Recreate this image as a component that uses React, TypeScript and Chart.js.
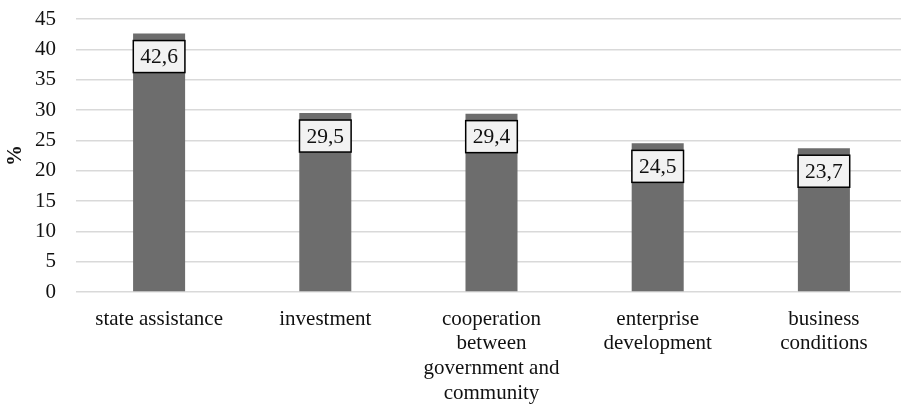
import React, { useEffect, useRef } from "react";
import { Chart, registerables } from "chart.js";

Chart.register(...registerables);

const categories: (string | string[])[] = [
  "state assistance",
  "investment",
  ["cooperation", "between", "government and", "community"],
  ["enterprise", "development"],
  ["business", "conditions"],
];
const values: number[] = [42.6, 29.5, 29.4, 24.5, 23.7];
const valueLabels: string[] = ["42,6", "29,5", "29,4", "24,5", "23,7"];
const yTicks: number[] = [0, 5, 10, 15, 20, 25, 30, 35, 40, 45];
const yTitle = "%";

const FONT = '"Liberation Serif", "Times New Roman", serif';

const boxLabels = {
  id: "boxLabels",
  afterDatasetsDraw(chart: any) {
    const ctx = chart.ctx;
    const meta = chart.getDatasetMeta(0);
    ctx.save();
    ctx.font = `21.5px ${FONT}`;
    ctx.textAlign = "center";
    ctx.textBaseline = "middle";
    meta.data.forEach((bar: any, i: number) => {
      const txt = valueLabels[i];
      const w = ctx.measureText(txt).width + 14;
      const h = 32;
      const cx = bar.x;
      const top = bar.y + 7;
      ctx.fillStyle = "#f2f2f2";
      ctx.fillRect(cx - w / 2, top, w, h);
      ctx.lineWidth = 1.5;
      ctx.strokeStyle = "#000";
      ctx.strokeRect(cx - w / 2, top, w, h);
      ctx.fillStyle = "#111";
      ctx.fillText(txt, cx, top + h / 2 + 1);
    });
    ctx.restore();
  },
};

export default function App() {
  const ref = useRef<HTMLCanvasElement>(null);
  useEffect(() => {
    if (!ref.current) return;
    const chart = new Chart(ref.current, {
      type: "bar",
      data: {
        labels: categories,
        datasets: [
          {
            data: values,
            backgroundColor: "#6d6d6d",
            borderWidth: 0,
            categoryPercentage: 1,
            barPercentage: 0.313,
          },
        ],
      },
      options: {
        responsive: false,
        animation: false,
        layout: { padding: { top: 19, right: 0, left: 0, bottom: 0 } },
        plugins: { legend: { display: false }, tooltip: { enabled: false } },
        scales: {
          x: {
            grid: { display: false, drawTicks: false },
            border: { display: false },
            ticks: {
              padding: 15,
              color: "#111",
              font: { family: FONT, size: 21, lineHeight: 1.17 },
              maxRotation: 0,
              autoSkip: false,
            },
            afterFit(scale: any) {
              scale.height = 112;
              scale.paddingLeft = 0;
              scale.paddingRight = 0;
            },
          },
          y: {
            min: 0,
            max: 45,
            afterBuildTicks(scale: any) {
              scale.ticks = yTicks.map((v) => ({ value: v }));
            },
            grid: { color: "#d9d9d9", lineWidth: 1.5, drawTicks: false },
            border: { display: false },
            ticks: {
              padding: 20,
              color: "#111",
              font: { family: FONT, size: 21 },
            },
            title: {
              display: true,
              text: yTitle,
              color: "#111",
              font: { family: FONT, size: 21, weight: "bold" },
              padding: { top: 3, bottom: 3 },
            },
            afterFit(scale: any) {
              scale.width = 76;
              scale.paddingTop = 0;
              scale.paddingBottom = 0;
            },
          },
        },
      },
      plugins: [boxLabels],
    });
    return () => chart.destroy();
  }, []);
  return (
    <div
      style={{
        position: "fixed",
        left: 0,
        top: 0,
        width: 901,
        height: 404,
        overflow: "hidden",
        background: "#fff",
      }}
    >
      <canvas ref={ref} width={907} height={404} style={{ display: "block" }} />
    </div>
  );
}
